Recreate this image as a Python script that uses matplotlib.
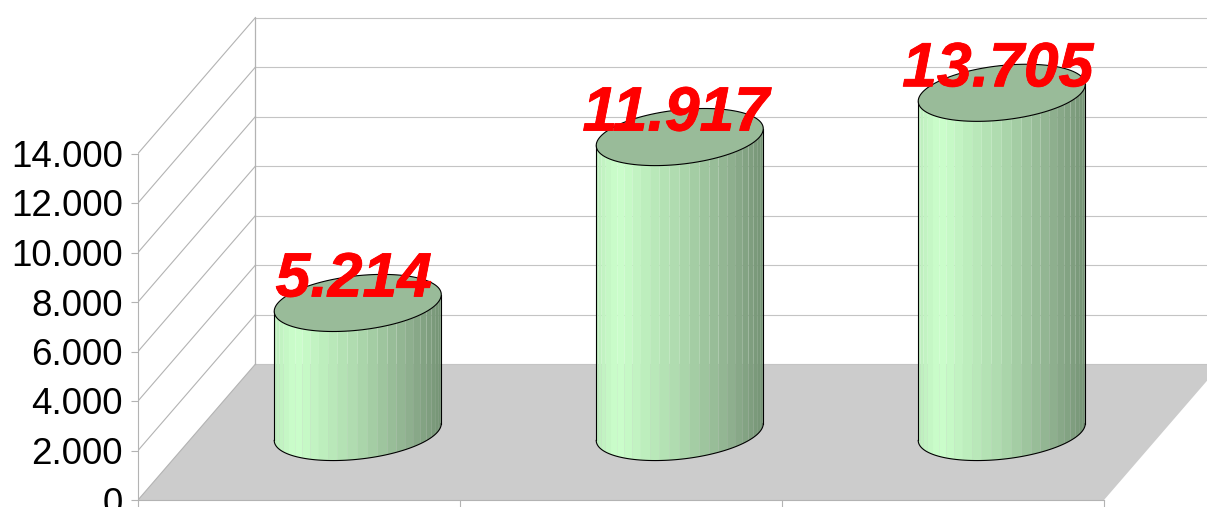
import numpy as np
import matplotlib
matplotlib.use('Agg')
import matplotlib.pyplot as plt
import matplotlib.patheffects as pe

plt.rcParams['font.family'] = ['Liberation Sans', 'DejaVu Sans']

# data
values = [5214, 11917, 13705]
value_labels = ['5.214', '11.917', '13.705']
tick_values = [0, 2000, 4000, 6000, 8000, 10000, 12000, 14000]
tick_labels = ['0', '2.000', '4.000', '6.000', '8.000', '10.000', '12.000', '14.000']

# size of one category and one value unit on screen, in pixels
cat_px = 322.0
val_px = 346.5 / 14000
# wall depth
depth_x = 117.5 / cat_px
depth_y = 136.0 / val_px

fig = plt.figure(figsize=(12.07, 5.07), dpi=100)
ax = fig.add_axes([138 / 1207, 7 / 507, 1069 / 1207, 500 / 507])
ax.set_xlim(0, 1069 / cat_px)
ax.set_ylim(0, 500 / val_px)
ax.patch.set_visible(False)

wall = '#b3b3b3'
grid = '#c4c4c4'

# floor
ax.fill([0, depth_x, 3 + depth_x, 3], [0, depth_y, depth_y, 0], color='#cccccc', lw=0, zorder=1)

# walls and grid
for v in tick_values:
    ax.plot([0, depth_x], [v, v + depth_y], color=wall, lw=0.8, zorder=2)
    ax.plot([depth_x, 4], [v + depth_y, v + depth_y], color=grid, lw=0.8, zorder=2)
ax.plot([depth_x, depth_x], [depth_y, 14000 + depth_y], color=wall, lw=0.9, zorder=2)

# axes
for s in ['top', 'right']:
    ax.spines[s].set_visible(False)
ax.spines['left'].set_bounds(0, 14000)
ax.spines['left'].set_color(wall)
ax.spines['bottom'].set_bounds(0, 3)
ax.spines['bottom'].set_color(wall)
ax.set_yticks(tick_values)
ax.set_yticklabels(tick_labels, fontsize=26.5)
ax.set_xticks([0, 1, 2, 3])
ax.set_xticklabels([])
ax.tick_params(axis='y', length=5, color=wall, pad=6)
ax.tick_params(axis='x', length=5, color=wall)

# cylinders
rx = 79.8 / cat_px
rd = 0.21
t0 = np.arctan2(rd * depth_x, rx)
stops = [0, 0.13, 0.3, 0.5, 0.8, 1]
reds = [0.74, 0.80, 0.74, 0.68, 0.56, 0.46]
greens = [0.93, 1.00, 0.93, 0.85, 0.69, 0.58]


def ring(cx, base, t):
    return cx + rx * np.cos(t) + rd * depth_x * np.sin(t), base + rd * depth_y * np.sin(t)


for i, v in enumerate(values):
    cx = i + 0.5 + depth_x / 2
    base = depth_y / 2

    # front of the cylinder as narrow strips, light to dark
    t = np.linspace(t0 - np.pi, t0, 27)
    for a, b in zip(t[:-1], t[1:]):
        seg = np.linspace(a, b, 4)
        x, y = ring(cx, base, seg)
        frac = (x.mean() - (cx - 83.5 / cat_px)) / (167 / cat_px)
        r = np.interp(frac, stops, reds)
        g = np.interp(frac, stops, greens)
        ax.fill(np.r_[x, x[::-1]], np.r_[y, y[::-1] + v], color=(r, g, r), lw=0, zorder=3)

    # outline
    x, y = ring(cx, base, np.linspace(t0 - np.pi, t0, 80))
    ax.plot(x, y, color='black', lw=0.8, zorder=4)
    ax.plot([x[0], x[0]], [y[0], y[0] + v], color='black', lw=0.8, zorder=4)
    ax.plot([x[-1], x[-1]], [y[-1], y[-1] + v], color='black', lw=0.8, zorder=4)

    # top
    x, y = ring(cx, base + v, np.linspace(0, 2 * np.pi, 120))
    ax.fill(x, y, facecolor='#99bb99', edgecolor='black', lw=0.8, zorder=5)

    ax.text(cx - 4 / cat_px, base + v + 23 / val_px, value_labels[i], color='red',
            fontsize=45, fontweight='bold', fontstyle='italic',
            ha='center', va='center', zorder=6,
            path_effects=[pe.withStroke(linewidth=0.6, foreground='red')])

fig.savefig('out.png', dpi=100)
